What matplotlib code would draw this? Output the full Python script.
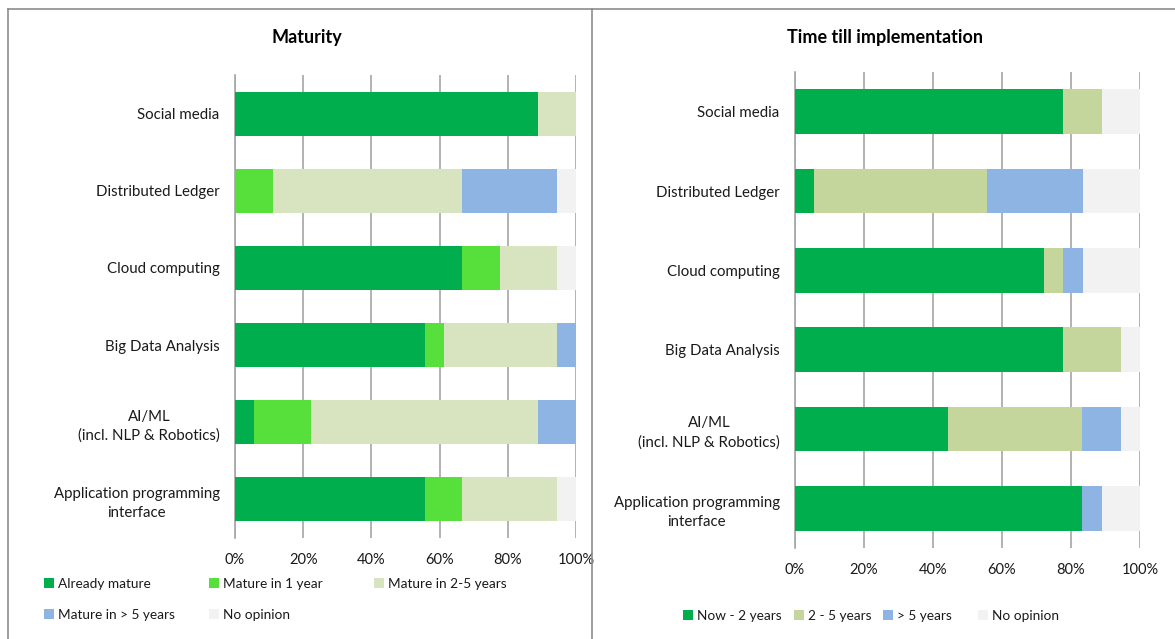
import matplotlib
matplotlib.use("Agg")
import matplotlib.pyplot as plt
from matplotlib.lines import Line2D
from matplotlib.patches import Patch
import numpy as np

plt.rcParams['font.family'] = ['Lato', 'DejaVu Sans']

categories = ["Social media", "Distributed Ledger", "Cloud computing", "Big Data Analysis",
              "AI/ML\n(incl. NLP & Robotics)", "Application programming\ninterface"]

# Maturity (% of respondents)
mat_labels = ["Already mature", "Mature in 1 year", "Mature in 2-5 years",
              "Mature in > 5 years", "No opinion"]
already_mature = [88.9, 0.0, 66.7, 55.6, 5.6, 55.6]
mature_1y = [0.0, 11.1, 11.1, 5.6, 16.7, 11.1]
mature_2_5y = [11.1, 55.6, 16.7, 33.3, 66.7, 27.8]
mature_gt5y = [0.0, 27.8, 0.0, 5.5, 11.0, 0.0]
mat_no_opinion = [0.0, 5.5, 5.5, 0.0, 0.0, 5.5]

# Time till implementation (% of respondents)
time_labels = ["Now - 2 years", "2 - 5 years", "> 5 years", "No opinion"]
now_2y = [77.8, 5.6, 72.2, 77.8, 44.4, 83.3]
two_5y = [11.1, 50.0, 5.6, 16.7, 38.9, 0.0]
gt_5y = [0.0, 27.8, 5.6, 0.0, 11.1, 5.6]
time_no_opinion = [11.1, 16.6, 16.6, 5.5, 5.6, 11.1]

xticks = [0, 20, 40, 60, 80, 100]
xtick_labels = ["0%", "20%", "40%", "60%", "80%", "100%"]

mat_colors = ["#00AE4E", "#57E03C", "#D8E4BF", "#8EB4E3", "#F2F2F2"]
time_colors = ["#00AE4E", "#C4D69C", "#8EB4E3", "#F2F2F2"]

W, H = 1175, 639
fig = plt.figure(figsize=(W / 100, H / 100), dpi=100)
fig.patch.set_facecolor("white")


def px_axes(x0, x1, y0, y1):
    return fig.add_axes([x0 / W, 1 - y1 / H, (x1 - x0) / W, (y1 - y0) / H])


def draw(ax, series, colors, bar_h):
    y = np.arange(len(categories))
    left = np.zeros(len(categories))
    for vals, c in zip(series, colors):
        vals = np.array(vals, dtype=float)
        ax.barh(y, vals, left=left, height=bar_h, color=c, zorder=3, linewidth=0)
        left += vals
    ax.set_ylim(len(categories) - 0.5, -0.5)
    ax.set_xlim(0, 100)
    ax.set_yticks(y)
    ax.set_yticklabels(categories, fontsize=10.8, color="#1a1a1a", ha="right",
                       multialignment="center", linespacing=1.45)
    ax.set_xticks(xticks)
    ax.set_xticklabels(xtick_labels, fontsize=10.5, color="#1a1a1a")
    ax.tick_params(axis="y", length=0, pad=11)
    ax.tick_params(axis="x", length=0, pad=11)
    ax.grid(axis="x", color="#A6A6A6", linewidth=1.2, zorder=0)
    for s in ["top", "right", "bottom"]:
        ax.spines[s].set_visible(False)
    ax.spines["left"].set_color("#A6A6A6")
    ax.spines["left"].set_linewidth(1.2)


ax1 = px_axes(235, 576, 75, 538)
draw(ax1, [already_mature, mature_1y, mature_2_5y, mature_gt5y, mat_no_opinion], mat_colors, 0.57)
ax2 = px_axes(795, 1140, 72, 548)
draw(ax2, [now_2y, two_5y, gt_5y, time_no_opinion], time_colors, 0.56)

fig.text(307 / W, 1 - 37 / H, "Maturity", ha="center", va="center", fontsize=13, fontweight="bold", color="#000000")
fig.text(885 / W, 1 - 37 / H, "Time till implementation", ha="center", va="center", fontsize=13, fontweight="bold", color="#000000")


def legend_entry(label, color, x, y):
    leg = fig.legend([Patch(facecolor=color, edgecolor="none")], [label], loc="center left",
                     bbox_to_anchor=(x / W, 1 - y / H), frameon=False, fontsize=9.8,
                     handlelength=0.75, handleheight=0.75, handletextpad=0.25,
                     borderpad=0, borderaxespad=0, labelcolor="#1a1a1a")
    return leg


left_pos = [(44, 584), (209, 584), (374, 584), (44, 615), (209, 615)]
for lab, c, (x, y) in zip(mat_labels, mat_colors, left_pos):
    legend_entry(lab, c, x, y)

right_pos = [(683, 616), (794, 616), (883, 616), (978, 616)]
for lab, c, (x, y) in zip(time_labels, time_colors, right_pos):
    legend_entry(lab, c, x, y)

lc = "#8C8C8C"
fig.add_artist(Line2D([8 / W, 1], [1 - 9 / H, 1 - 9 / H], color=lc, linewidth=1.2))
fig.add_artist(Line2D([8 / W, 8 / W], [0, 1 - 9 / H], color=lc, linewidth=1.2))
fig.add_artist(Line2D([592 / W, 592 / W], [0, 1 - 9 / H], color=lc, linewidth=1.2))

fig.savefig("out.png", dpi=100, facecolor="white")
